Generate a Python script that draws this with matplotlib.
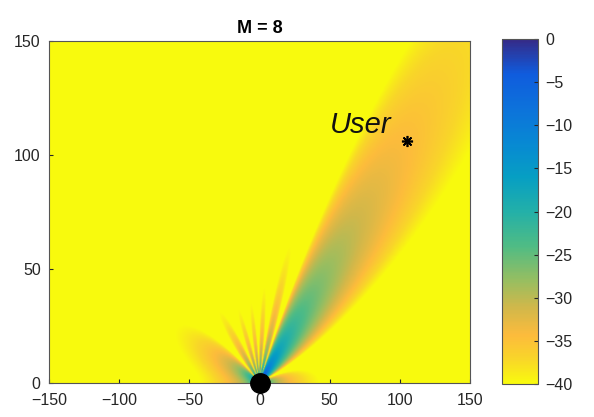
import numpy as np
import matplotlib
matplotlib.use('Agg')
import matplotlib.pyplot as plt
from matplotlib.colors import LinearSegmentedColormap

# scenario
M = 8                      # number of antennas
user_xy = [105, 106]       # user position
spacing = 0.5              # element spacing in wavelengths
db_min, db_max = -40, 0

x_ticks = [-150, -100, -50, 0, 50, 100, 150]
y_ticks = [0, 50, 100, 150]
cbar_ticks = [0, -5, -10, -15, -20, -25, -30, -35, -40]

# approximate parula
parula_pos = [0.0, 0.1, 0.2, 0.3, 0.4, 0.5, 0.6, 0.7, 0.78, 0.86, 0.93, 1.0]
parula_rgb = [
    (0.208, 0.166, 0.529), (0.060, 0.360, 0.868), (0.050, 0.447, 0.858),
    (0.030, 0.535, 0.828), (0.025, 0.622, 0.765), (0.138, 0.690, 0.660),
    (0.310, 0.735, 0.520), (0.590, 0.745, 0.380), (0.820, 0.720, 0.290),
    (0.990, 0.735, 0.235), (0.975, 0.840, 0.160), (0.976, 0.983, 0.054),
]
parula = LinearSegmentedColormap.from_list('parula', list(zip(parula_pos, parula_rgb)))

# received power map
x = np.linspace(-150, 150, 601)
y = np.linspace(0, 150, 301)
X, Y = np.meshgrid(x, y)
r = np.hypot(X, Y)
r[r < 0.5] = 0.5
cos_t = X / r
cos_0 = user_xy[0] / np.hypot(*user_xy)
psi = 2 * np.pi * spacing * (cos_t - cos_0)
af = np.zeros_like(X, dtype=complex)
for m in range(M):
    af += np.exp(1j * m * psi)
power = 10 * np.log10(np.abs(af) ** 2 / M + 1e-12) - 20 * np.log10(r)
power = np.clip(power, db_min, db_max)

plt.rcParams['font.family'] = ['Liberation Sans', 'DejaVu Sans']
fig = plt.figure(figsize=(5.94, 4.17), dpi=100)
ax = fig.add_axes([49 / 594, 34 / 417, 421 / 594, 342 / 417])
im = ax.imshow(power, origin='lower', extent=[-150, 150, 0, 150], aspect='auto',
               cmap=parula.reversed(), vmin=db_min, vmax=db_max, interpolation='bilinear')

ax.plot(0, 0, 'o', color='black', markersize=14, clip_on=False, zorder=5)
ax.plot(user_xy[0], user_xy[1], marker=(8, 2, 0), color='black', markersize=8,
        markeredgewidth=1.2, zorder=5)
ax.text(50, 113, 'User', fontsize=21, style='italic', va='center', ha='left', color='#111111')

ax.set_xlim(-150, 150)
ax.set_ylim(0, 150)
ax.set_xticks(x_ticks)
ax.set_yticks(y_ticks)
ax.tick_params(direction='in', labelsize=11.5, colors='#262626', length=3)
ax.tick_params(axis='x', pad=7)
ax.tick_params(axis='y', pad=6)
for s in ax.spines.values():
    s.set_color('#555555')
    s.set_linewidth(0.8)
ax.set_title('M = 8', fontsize=13, fontweight='bold', pad=6)

cax = fig.add_axes([502 / 594, 33 / 417, 36 / 594, 345 / 417])
cb = fig.colorbar(im, cax=cax, ticks=cbar_ticks)
cb.ax.tick_params(direction='in', labelsize=11.5, colors='#262626', length=3, pad=5)
cb.outline.set_edgecolor('#555555')

fig.savefig('out.png', dpi=100)
